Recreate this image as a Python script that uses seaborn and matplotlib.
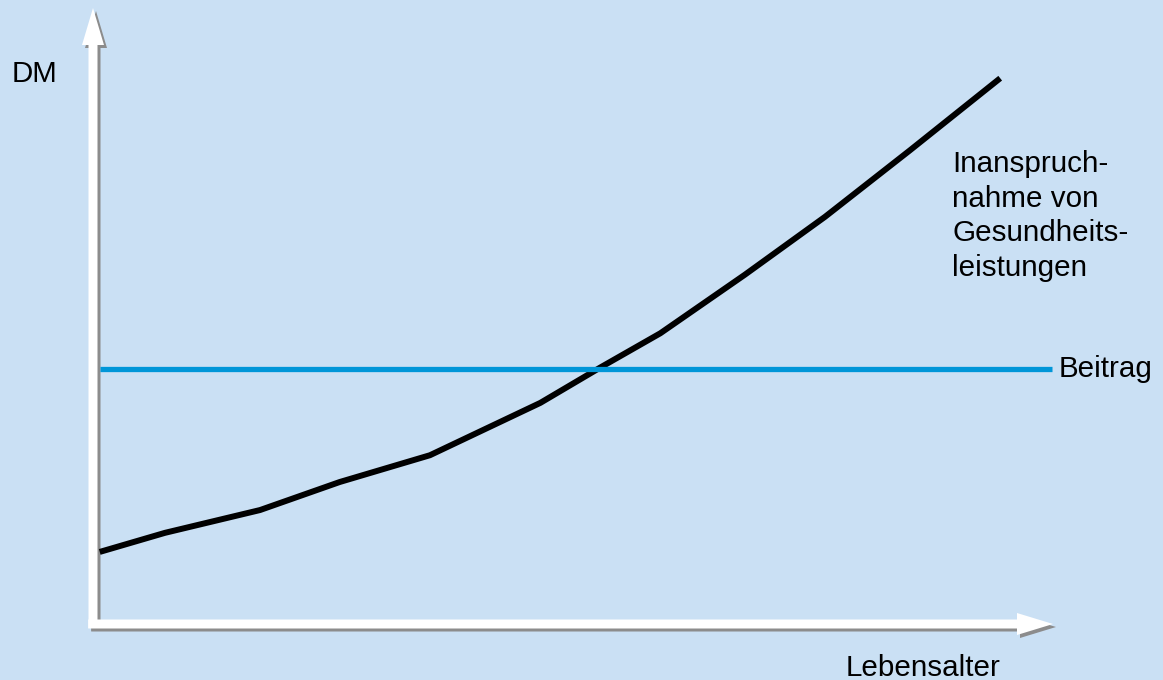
import matplotlib
matplotlib.use("Agg")
import matplotlib.pyplot as plt
import matplotlib.transforms as mtransforms
from matplotlib.patches import FancyArrow
import seaborn as sns
import pandas as pd

# ---- data (arbitrary units) ----
age = [0.7, 7.5, 17.4, 25.7, 35.1, 46.6, 52.8, 59.1, 67.9, 76.25, 85.1, 94.5]
costs = [11.7, 14.8, 18.5, 23.05, 27.4, 35.9, 41.6, 47.2, 56.7, 66.1, 76.9, 88.6]
beitrag_x = [0.7, 99.9]
beitrag_y = [41.4, 41.4]
label_curve = ["Inanspruch-", "nahme von", "Gesundheits-", "leistungen"]
label_beitrag = "Beitrag"
label_y = "DM"
label_x = "Lebensalter"

BG = "#cae0f4"
BLUE = "#0096d8"
W, H = 1163, 680

plt.rcParams["font.family"] = ["Liberation Sans", "DejaVu Sans"]
fig = plt.figure(figsize=(W / 100, H / 100), dpi=100, facecolor=BG)
# axes: data origin at pixel (93, 624), x=100 at px 1053, y=100 at px 8
ax = fig.add_axes([93 / W, (H - 624) / H, (1053 - 93) / W, (624 - 8) / H])
ax.set_facecolor(BG)
ax.set_xlim(0, 100)
ax.set_ylim(0, 100)
ax.axis("off")

df_curve = pd.DataFrame({"age": age, "costs": costs})
df_b = pd.DataFrame({"x": beitrag_x, "y": beitrag_y})
sns.lineplot(data=df_curve, x="age", y="costs", ax=ax, color="black",
             linewidth=4.3, solid_capstyle="butt", zorder=3, sort=False)
sns.lineplot(data=df_b, x="x", y="y", ax=ax, color=BLUE,
             linewidth=3.8, solid_capstyle="butt", zorder=4, sort=False)

# axis arrows (white with grey shadow)
px_x = 9.6   # pixels per x unit
px_y = 6.16  # pixels per y unit
shadow = mtransforms.offset_copy(ax.transData, fig=fig, x=3, y=-3, units="dots")

def arrows(transform, color, z):
    # vertical
    ax.add_patch(FancyArrow(0, -0.65, 0, 100.65, width=9 / px_x,
                            head_width=22 / px_x, head_length=37 / px_y,
                            length_includes_head=True, color=color, lw=0,
                            transform=transform, clip_on=False, zorder=z))
    # horizontal
    ax.add_patch(FancyArrow(-0.5, 0, 100.5, 0, width=9 / px_y,
                            head_width=22 / px_y, head_length=36 / px_x,
                            length_includes_head=True, color=color, lw=0,
                            transform=transform, clip_on=False, zorder=z))

arrows(shadow, "#8c8c8c", 1)
arrows(ax.transData, "white", 2)

fs = 21.3
def ftext(px, py, s, **kw):
    fig.text(px / W, 1 - py / H, s, fontsize=fs, color="black", **kw)

ftext(12, 82, label_y, ha="left", va="baseline")
ftext(846, 676, label_x, ha="left", va="baseline")
ftext(1059, 377, label_beitrag, ha="left", va="baseline")
for i, line in enumerate(label_curve):
    ftext(952, 172 + i * 34.7, line, ha="left", va="baseline")

fig.savefig("out.png", dpi=100, facecolor=BG)
